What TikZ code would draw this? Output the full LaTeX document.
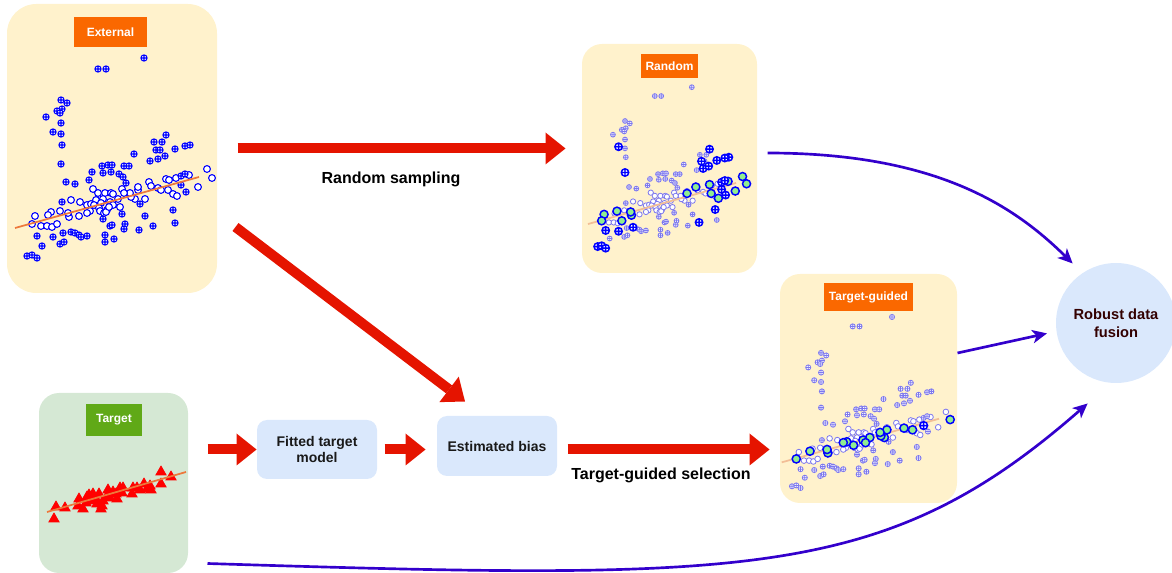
\documentclass[tikz,border=0pt]{standalone}
\usepackage{fontspec}
\setmainfont{Liberation Sans}
\usetikzlibrary{arrows.meta,calc}

\definecolor{panelYellow}{RGB}{255,242,204}
\definecolor{panelGreen}{RGB}{213,232,212}
\definecolor{boxBlue}{RGB}{218,232,252}
\definecolor{tagOrange}{RGB}{250,104,0}
\definecolor{tagGreen}{RGB}{96,169,23}
\definecolor{arrowRed}{RGB}{229,20,0}
\definecolor{curvePurple}{RGB}{51,0,204}
\definecolor{fitOrange}{RGB}{237,120,60}
\definecolor{fadeLine}{RGB}{242,190,150}
\definecolor{dotBlue}{RGB}{0,0,255}
\definecolor{fadeBlue}{RGB}{125,120,238}
\definecolor{pickGreen}{RGB}{144,238,144}
\definecolor{fusionText}{RGB}{51,0,0}

% scatter data (pixel positions inside the External panel)
\def\crosspts{144/58,98/69,106/69,61/100,67/103,62/109,57/111,60/113,46/117,61/123,53/132,61/134,62/145,61/164,134/154,166/135,154/142,162/142,156/150,160/150,175/149,185/146,190/145,165/156,158/159,150/161,102/166,108/165,112/165,124/166,129/166,92/172,89/180,103/173,111/172,119/174,123/177,126/183,66/182,75/184,181/176,185/174,181/185,186/192,62/202,140/204,122/214,145/216,173/210,103/219,110/226,112/225,125/224,124/229,139/230,153/226,175/223,37/236,53/237,63/233,71/232,75/233,79/235,81/237,87/236,105/235,105/242,114/239,60/244,64/242,42/246,27/256,32/255,37/258}
\def\ringpts{207/169,212/178,198/187,149/182,151/186,158/188,166/179,169/180,176/178,189/175,161/190,168/190,173/194,177/196,145/199,135/199,131/197,138/190,130/193,93/189,98/193,105/193,111/193,113/194,122/189,124/193,103/199,110/202,118/199,96/200,101/203,71/200,80/202,87/205,91/204,94/205,99/208,90/211,87/213,100/211,104/213,107/210,120/207,113/205,60/211,51/212,48/215,35/216,69/217,79/216,68/213,32/224,41/226,47/226,52/227,57/224,106/212,109/207,138/187}
\def\rndcross{53/132,61/164,166/135,156/150,158/159,165/156,175/149,190/145,185/146,181/176,185/174,181/185,186/192,173/210,153/226,37/236,53/237,71/232,27/256,32/255,37/258}
\def\rndring{207/169,212/178,198/187,166/179,177/196,189/175,168/190,149/182,138/190,35/216,32/224,51/212,57/224,69/217,68/213}
\def\tgring{212/178,168/190,158/188,138/190,135/199,131/197,130/193,118/199,110/202,113/205,99/208,91/204,87/205,69/217,68/213,48/215,32/224}
\def\tripts{54/518,56/506,65/507,79/498,78/505,83/508,87/496,89/494,93/493,96/498,99/493,101/508,103/500,108/489,113/491,117/498,116/493,120/487,123/487,132/493,133/487,137/487,144/483,147/488,150/485,151/489,161/471,161/483,171/476,107/495,110/497,93/500,86/502,97/503,102/505,122/492,140/489}

\tikzset{every picture/.style={line width=0.75pt}}
\tikzset{
  panel/.style={rounded corners=22pt, inner sep=0pt},
  tag/.style={inner sep=0pt, text=white, font=\bfseries\fontsize{9}{10}\selectfont},
  stepbox/.style={fill=boxBlue, rounded corners=7.5pt, inner sep=0pt, align=center, text=black!90, font=\bfseries\fontsize{10.5}{12}\selectfont},
  bigarrow/.style={draw=arrowRed, line width=7.5pt, -{Triangle[length=15pt,width=24pt,line width=0pt]}},
  flow/.style={draw=curvePurple, line width=2pt, -{Stealth[length=11pt,width=10pt,inset=3pt]}},
  edgelabel/.style={inner sep=0pt, font=\bfseries\fontsize{12}{14}\selectfont},
  ring/.style={draw=dotBlue, fill=white, line width=0.8pt},
  cross/.style={draw=dotBlue, fill=white, line width=0.8pt},
  fadedot/.style={draw=fadeBlue, fill=white, line width=0.6pt},
  pickring/.style={draw=dotBlue, fill=pickGreen, line width=1.1pt},
  pickcross/.style={draw=dotBlue, fill=white, line width=1.1pt},
  fitline/.style={draw=fitOrange, line width=1.3pt},
  tri/.style={draw=red, fill=red, line width=0.5pt}
}

\begin{document}
\begin{tikzpicture}[x=0.75pt,y=0.75pt,yscale=-1,xscale=1]
\useasboundingbox (0,0) rectangle (1172,573);

%Shape: Rounded Rect [External]
\node[panel, fill=panelYellow, minimum width=157.5pt, minimum height=216.75pt] (ext) at (112,148.5) {};
%Shape: Rounded Rect [Random]
\node[panel, fill=panelYellow, rounded corners=15pt, minimum width=131.25pt, minimum height=171.75pt] (rnd) at (669.5,158.5) {};
%Shape: Rounded Rect [Target-guided]
\node[panel, fill=panelYellow, rounded corners=15pt, minimum width=132.75pt, minimum height=171.75pt] (tg) at (868.5,388.5) {};
%Shape: Rounded Rect [Target]
\node[panel, fill=panelGreen, rounded corners=15pt, minimum width=111.75pt, minimum height=135pt] (tgt) at (113.5,483) {};

%Scatter: External
\foreach \x/\y in \ringpts {\draw[ring] (\x,\y) circle (3.4);}
\foreach \x/\y in \crosspts {\draw[cross] (\x,\y) circle (3.1) ++(-3.1,0) -- ++(6.2,0) ++(-3.1,-3.1) -- ++(0,6.2);}
\draw[fitline] (15,228) -- (199,177);

%Scatter: Random
\begin{scope}[shift={(575.9,40.5)}, scale=0.805]
\foreach \x/\y in \ringpts {\draw[fadedot] (\x,\y) circle (3.3);}
\foreach \x/\y in \crosspts {\draw[fadedot] (\x,\y) circle (3) ++(-3,0) -- ++(6,0) ++(-3,-3) -- ++(0,6);}
\draw[fitline, fadeLine] (15,228) -- (199,177);
\foreach \x/\y in \rndring {\draw[pickring] (\x,\y) circle (5);}
\foreach \x/\y in \rndcross {\draw[pickcross] (\x,\y) circle (4.6) ++(-4.6,0) -- ++(9.2,0) ++(-4.6,-4.6) -- ++(0,9.2);}
\end{scope}

%Scatter: Target-guided
\begin{scope}[shift={(768.9,267.4)}, scale=0.855]
\foreach \x/\y in \ringpts {\draw[fadedot] (\x,\y) circle (3.3);}
\foreach \x/\y in \crosspts {\draw[fadedot] (\x,\y) circle (3) ++(-3,0) -- ++(6,0) ++(-3,-3) -- ++(0,6);}
\draw[fitline, fadeLine] (15,228) -- (199,177);
\foreach \x/\y in \tgring {\draw[pickring] (\x,\y) circle (4.8);}
\draw[pickcross] (181,185) circle (4.6) ++(-4.6,0) -- ++(9.2,0) ++(-4.6,-4.6) -- ++(0,9.2);
\end{scope}

%Scatter: Target
\foreach \x/\y in \tripts {\draw[tri] (\x-5.2,\y+4) -- (\x+5.2,\y+4) -- (\x,\y-5) -- cycle;}
\draw[fitline] (47,512) -- (186,472);

% Text Node
\node[tag, fill=tagOrange, minimum width=54.75pt, minimum height=22.5pt] (extTag) at (110.5,32) {External};
% Text Node
\node[tag, fill=tagOrange, minimum width=42.75pt, minimum height=18pt] (rndTag) at (669.5,66) {Random};
% Text Node
\node[tag, fill=tagOrange, minimum width=66.75pt, minimum height=21pt] (tgTag) at (868.5,297) {Target-guided};
% Text Node
\node[tag, fill=tagGreen, minimum width=42pt, minimum height=24pt] (tgtTag) at (114,420) {Target};

%Shape: Rounded Rect
\node[stepbox, minimum width=90pt, minimum height=44.25pt] (fit) at (317,449.5) {Fitted target\\model};
%Shape: Rounded Rect
\node[stepbox, minimum width=90pt, minimum height=45pt] (bias) at (497,446) {Estimated bias};
%Shape: Circle
\node[circle, fill=boxBlue, minimum size=90pt, inner sep=0pt, align=center, text=fusionText, font=\bfseries\fontsize{11}{13.3}\selectfont] (fusion) at (1116,323) {Robust data\\fusion};

% Text Node
\node[edgelabel] (rsLabel) at (391,179) {Random sampling};
% Text Node
\node[edgelabel] (tgLabel) at (661,475) {Target-guided selection};

%Red arrows
\draw[bigarrow, shorten <=15pt, shorten >=12pt] (ext.east) -- (ext.east -| rnd.west);
\draw[bigarrow] ($(ext.east)+(18,78.5)$) -- ($(bias.north)+(-32,-14)$);
\draw[bigarrow, shorten <=14.25pt] (fit.west -| tgt.east) -- (fit.west);
\draw[bigarrow, shorten <=5.25pt, shorten >=8.25pt] (fit.east) -- (fit.east -| bias.west);
\draw[bigarrow, shorten <=7.5pt, shorten >=7.5pt] (fit.east -| bias.east) -- (fit.east -| tg.west);

%Purple curves
\draw[flow, shorten >=10pt] ($(rnd.east)+(10,-5.5)$) .. controls +(170,0) and +(-67,-66) .. (fusion.124);
\draw[flow, shorten >=7pt] ($(tg.east)+(0,-35.5)$) -- (fusion.188);
\draw[flow, shorten >=23pt] ($(tgt.south east)+(19,-10)$) .. controls +(543,17) and +(-225,197) .. (fusion.265);

\end{tikzpicture}
\end{document}
